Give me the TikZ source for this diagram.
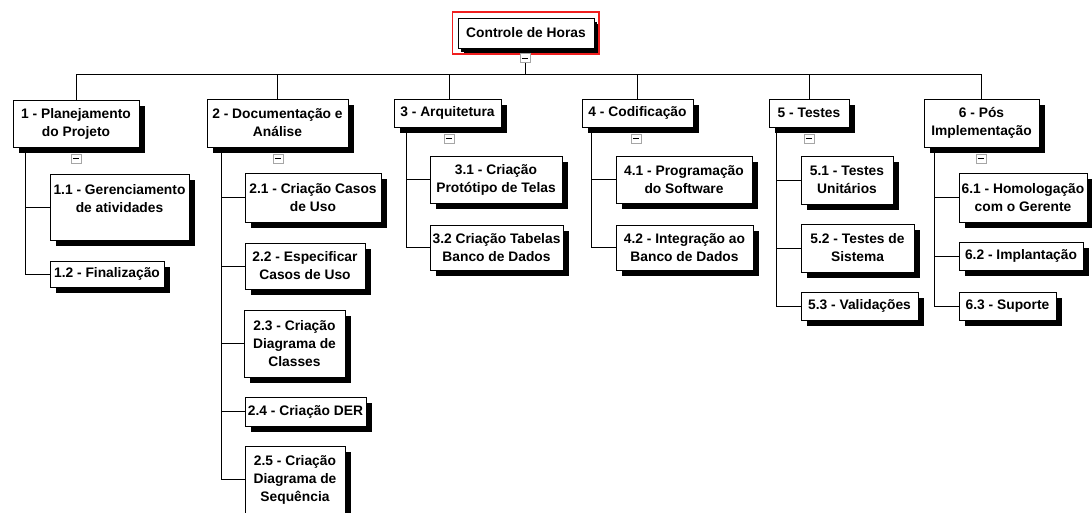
\documentclass[tikz,border=0pt]{standalone}
\usepackage{fontspec}
\setmainfont{Liberation Sans}
\usetikzlibrary{shadows}
\definecolor{framered}{RGB}{240,30,30}
\tikzset{
  wbs/.style={draw=black, line width=1pt, fill=white, inner sep=0pt, align=center,
    font=\fontsize{13.8}{18}\selectfont\bfseries,
    drop shadow={shadow xshift=6pt, shadow yshift=-6pt, opacity=1, fill=black}},
  tog/.style={draw=gray!70, fill=white, line width=0.8pt, inner sep=0pt,
    minimum width=10pt, minimum height=9pt},
  conn/.style={draw=black, line width=1pt},
  redframe/.style={draw=framered, line width=1.5pt}
}
\begin{document}
\begin{tikzpicture}[x=1pt,y=-1pt]
\useasboundingbox (0,0) rectangle (1092,512);
\clip (0,0) rectangle (1092,512);
\coordinate (bus) at (0,74);

% root
\node[wbs, minimum width=136pt, minimum height=30pt, drop shadow={shadow xshift=3pt, shadow yshift=-4pt, opacity=1, fill=black}] (root) at (526,33) {Controle de Horas};
\draw[redframe] ([shift={(-5,-5.5)}]root.north west) rectangle ([shift={(4.5,5.5)}]root.south east);
\node[tog] (m0) at (525,58) {};

% level 1
\node[wbs, minimum width=126pt, minimum height=47pt] (n1) at (76,123.5) {1 - Planejamento\\do Projeto};
\node[wbs, minimum width=141pt, minimum height=48pt] (n2) at (277.5,123) {2 - Documentação e\\Análise};
\node[wbs, minimum width=107pt, minimum height=28pt] (n3) at (447.5,113) {3 - Arquitetura};
\node[wbs, minimum width=111pt, minimum height=28pt] (n4) at (637.5,113) {4 - Codificação};
\node[wbs, minimum width=80pt, minimum height=28pt] (n5) at (809,113) {5 - Testes};
\node[wbs, minimum width=115pt, minimum height=48pt] (n6) at (981.5,123) {6 - Pós\\Implementação};

% toggles
\node[tog] (m1) at (76,158.5) {};
\node[tog] (m2) at (278,158.5) {};
\node[tog] (m3) at (449,138.5) {};
\node[tog] (m4) at (636,138.5) {};
\node[tog] (m5) at (809,138.5) {};
\node[tog] (m6) at (981,158.5) {};
\foreach \m in {m0,m1,m2,m3,m4,m5,m6}{
  \draw[line width=0.9pt] ([xshift=2.2pt]\m.west) -- ([xshift=-2.2pt]\m.east);
}

% level 2
\node[wbs, minimum width=139pt, minimum height=66pt] (n11) at (119.5,207) {1.1 - Gerenciamento\\de atividades\\\mbox{}};
\node[wbs, minimum width=114pt, minimum height=26pt] (n12) at (107,274) {1.2 - Finalização};

\node[wbs, minimum width=136pt, minimum height=49pt] (n21) at (313,197.5) {2.1 - Criação Casos\\de Uso};
\node[wbs, minimum width=120pt, minimum height=46pt] (n22) at (305,266) {2.2 - Especificar\\Casos de Uso};
\node[wbs, minimum width=101pt, minimum height=67pt] (n23) at (294.5,343.5) {2.3 - Criação\\Diagrama de\\Classes};
\node[wbs, minimum width=121pt, minimum height=29pt] (n24) at (305.5,411.5) {2.4 - Criação DER};
\node[wbs, minimum width=100pt, minimum height=67pt] (n25) at (295,479.5) {2.5 - Criação\\Diagrama de\\Sequência};

\node[wbs, minimum width=132pt, minimum height=47pt] (n31) at (496,179.5) {3.1 - Criação\\Protótipo de Telas};
\node[wbs, minimum width=133pt, minimum height=45pt] (n32) at (496.5,247.5) {3.2 Criação Tabelas\\Banco de Dados};

\node[wbs, minimum width=136pt, minimum height=47pt] (n41) at (684,179.5) {4.1 - Programação\\do Software};
\node[wbs, minimum width=137pt, minimum height=45pt] (n42) at (684.5,247.5) {4.2 - Integração ao\\Banco de Dados};

\node[wbs, minimum width=92pt, minimum height=48pt] (n51) at (847,180) {5.1 - Testes\\Unitários};
\node[wbs, minimum width=113pt, minimum height=48pt] (n52) at (857.5,248) {5.2 - Testes de\\Sistema};
\node[wbs, minimum width=117pt, minimum height=28pt] (n53) at (859.5,306) {5.3 - Validações};

\node[wbs, minimum width=128pt, minimum height=49pt] (n61) at (1023,197.5) {6.1 - Homologação\\com o Gerente};
\node[wbs, minimum width=124pt, minimum height=28pt] (n62) at (1021,256) {6.2 - Implantação};
\node[wbs, minimum width=97pt, minimum height=28pt] (n63) at (1007.5,306) {6.3 - Suporte};

% bus connectors
\draw[conn] (m0.south) -- (m0.south |- bus);
\draw[conn] (n1.north |- bus) -- (n6.north |- bus);
\foreach \n in {n1,n2,n4,n5,n6}{
  \draw[conn] (\n.north) -- (\n.north |- bus);
}
\draw[conn] ([xshift=1.5pt]n3.north) -- ([xshift=1.5pt]n3.north |- bus);

% child connectors
\coordinate (t1) at ([xshift=13pt]n1.south west);
\coordinate (t2) at ([xshift=15pt]n2.south west);
\coordinate (t3) at ([xshift=13pt]n3.south west);
\coordinate (t4) at ([xshift=10pt]n4.south west);
\coordinate (t5) at ([xshift=8pt]n5.south west);
\coordinate (t6) at ([xshift=11pt]n6.south west);
\foreach \t/\c in {t1/n11,t1/n12,t2/n21,t2/n22,t2/n23,t2/n24,t2/n25,t3/n31,t3/n32,t4/n41,t4/n42,t5/n51,t5/n52,t5/n53,t6/n61,t6/n62,t6/n63}{
  \draw[conn] (\t) |- (\c.west);
}
\end{tikzpicture}
\end{document}
